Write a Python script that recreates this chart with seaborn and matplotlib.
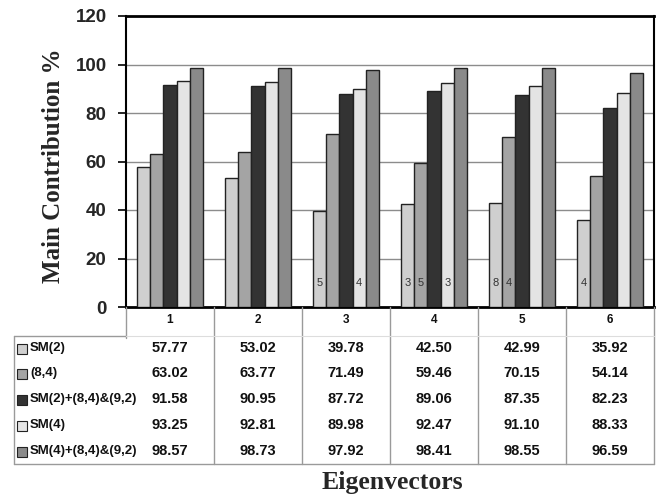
import matplotlib
matplotlib.use("Agg")
import matplotlib.pyplot as plt
import seaborn as sns
import pandas as pd

# Categories and series
eigenvectors = ["1", "2", "3", "4", "5", "6"]
series = ["SM(2)", "(8,4)", "SM(2)+(8,4)&(9,2)", "SM(4)", "SM(4)+(8,4)&(9,2)"]
sm2 = [57.77, 53.02, 39.78, 42.50, 42.99, 35.92]
p84 = [63.02, 63.77, 71.49, 59.46, 70.15, 54.14]
sm2_84_92 = [91.58, 90.95, 87.72, 89.06, 87.35, 82.23]
sm4 = [93.25, 92.81, 89.98, 92.47, 91.10, 88.33]
sm4_84_92 = [98.57, 98.73, 97.92, 98.41, 98.55, 96.59]
values = [sm2, p84, sm2_84_92, sm4, sm4_84_92]
colors = ["#cfcfcf", "#a4a4a4", "#333333", "#e4e4e4", "#8a8a8a"]

# Small counts printed inside some bars: (eigenvector index, series index, text)
bar_notes = [(2, 0, "5"), (2, 3, "4"), (3, 0, "3"), (3, 1, "5"), (3, 3, "3"),
             (4, 0, "8"), (4, 1, "4"), (5, 0, "4")]
y_ticks = [0, 20, 40, 60, 80, 100, 120]

df = pd.DataFrame({
    "Eigenvector": [e for s in series for e in eigenvectors],
    "Series": [s for s in series for e in eigenvectors],
    "Value": [v for vals in values for v in vals],
})

sns.set_style("white")
plt.rcParams["font.family"] = ["Liberation Sans", "DejaVu Sans"]

W, H = 660, 497
fig = plt.figure(figsize=(W / 100, H / 100), dpi=100)

# Plot area in pixel coordinates
L, R, T, B = 126, 654, 16, 307
ax = fig.add_axes([L / W, (H - B) / H, (R - L) / W, (B - T) / H])

sns.barplot(data=df, x="Eigenvector", y="Value", hue="Series",
            order=eigenvectors, hue_order=series, palette=colors,
            width=0.75, gap=0, edgecolor="#222222", linewidth=1.0,
            legend=False, ax=ax, zorder=3)

ax.set_xlim(-0.5, 5.5)
ax.set_ylim(0, 120)
ax.set_yticks(y_ticks)
ax.set_yticklabels([str(t) for t in y_ticks], fontsize=13.5, fontweight="bold")
ax.set_xticks([])
ax.set_xlabel("")
ax.set_ylabel("")
for t in y_ticks[1:-1]:
    ax.axhline(t, color="#8c8c8c", linewidth=1.0, zorder=1)
ax.tick_params(axis="y", length=6, width=1.2, color="black", pad=8, left=True)
for side in ["left", "right", "top", "bottom"]:
    ax.spines[side].set_visible(True)
    ax.spines[side].set_color("black")
ax.spines["left"].set_linewidth(1.5)
ax.spines["right"].set_linewidth(1.5)
ax.spines["top"].set_linewidth(2.0)
ax.spines["bottom"].set_linewidth(2.0)

for ci, si, txt in bar_notes:
    bar = ax.containers[si][ci]
    xc = bar.get_x() + bar.get_width() / 2
    ax.text(xc, 10, txt, ha="center", va="center", fontsize=8,
            color="#333333", zorder=4)

# Data table underneath, with columns aligned to the category slots
TL, TB = 14, 464
tax = fig.add_axes([TL / W, (H - TB) / H, (R - TL) / W, (TB - B) / H])
unit = (R - L) / 6.0
x_left = -0.5 - (L - TL) / unit
tax.set_xlim(x_left, 5.5)
tax.set_ylim(TB, B)
tax.axis("off")

grid_c = "#9a9a9a"
header_y = 320
row_top = 336
row_ys = [348, 373, 399, 425, 451]

# column dividers
tax.plot([-0.5, -0.5], [B, row_top + 2], color=grid_c, lw=1.0, clip_on=False)
for c in range(6):
    tax.plot([c + 0.5, c + 0.5], [B, TB], color=grid_c, lw=1.0, clip_on=False)
tax.plot([x_left, x_left], [row_top, TB], color=grid_c, lw=1.0, clip_on=False)
tax.plot([x_left, 5.5], [TB, TB], color=grid_c, lw=1.0, clip_on=False)
tax.plot([x_left, -0.5], [row_top, row_top], color=grid_c, lw=1.0, clip_on=False)
tax.plot([-0.5, 5.5], [row_top, row_top], color="#dddddd", lw=0.8, clip_on=False)

for c, e in enumerate(eigenvectors):
    tax.text(c, header_y, e, ha="center", va="center", fontsize=8.5,
             fontweight="bold", color="#111111")

px = (5.5 - x_left) / (R - TL)  # data units per pixel
for r, (name, vals, col) in enumerate(zip(series, values, colors)):
    y = row_ys[r]
    sw = plt.Rectangle((x_left + 3 * px, y - 4), 10 * px, 10, facecolor=col,
                       edgecolor="#222222", linewidth=0.8, clip_on=False)
    tax.add_patch(sw)
    tax.text(x_left + 16 * px, y, name, ha="left", va="center", fontsize=9.5,
             fontweight="bold", color="#111111")
    for c, v in enumerate(vals):
        tax.text(c, y, f"{v:.2f}", ha="center", va="center", fontsize=10.5,
                 fontweight="bold", color="#111111")

fig.text(54 / W, (H - 166) / H, "Main Contribution %", rotation=90,
         ha="center", va="center", fontsize=18, fontweight="bold",
         family=["Liberation Serif", "DejaVu Serif"])
fig.text(392 / W, (H - 482) / H, "Eigenvectors", ha="center", va="center",
         fontsize=18.5, fontweight="bold",
         family=["Liberation Serif", "DejaVu Serif"])

fig.savefig("out.png", dpi=100, facecolor="white")
